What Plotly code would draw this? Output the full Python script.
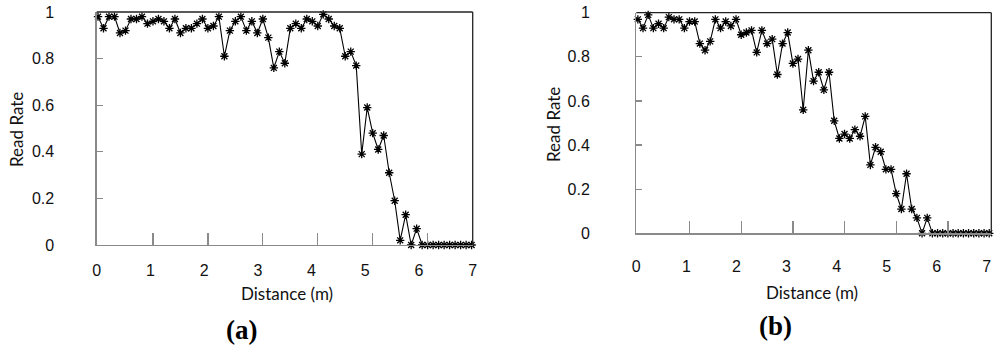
import plotly.graph_objects as go

# Distance (m): one sample every 0.1 m
distance = [round(0.1 * i, 1) for i in range(69)]

read_rate_a = [0.98, 0.93, 0.98, 0.98, 0.91, 0.92, 0.97, 0.97, 0.98, 0.95,
               0.96, 0.97, 0.96, 0.93, 0.97, 0.91, 0.93, 0.93, 0.95, 0.97,
               0.93, 0.94, 0.98, 0.81, 0.92, 0.96, 0.98, 0.92, 0.96, 0.91,
               0.97, 0.89, 0.76, 0.83, 0.78, 0.93, 0.95, 0.93, 0.97, 0.96,
               0.94, 0.99, 0.97, 0.94, 0.93, 0.81, 0.83, 0.77, 0.39, 0.59,
               0.48, 0.41, 0.47, 0.31, 0.19, 0.02, 0.13, 0.00, 0.07, 0.00,
               0, 0, 0, 0, 0, 0, 0, 0, 0]

read_rate_b = [0.97, 0.93, 0.99, 0.93, 0.95, 0.93, 0.98, 0.97, 0.97, 0.93,
               0.96, 0.96, 0.86, 0.83, 0.87, 0.97, 0.93, 0.96, 0.94, 0.97,
               0.90, 0.91, 0.92, 0.82, 0.92, 0.86, 0.88, 0.72, 0.86, 0.91,
               0.77, 0.79, 0.56, 0.83, 0.69, 0.73, 0.65, 0.73, 0.51, 0.43,
               0.45, 0.43, 0.47, 0.44, 0.53, 0.31, 0.39, 0.37, 0.29, 0.29,
               0.18, 0.11, 0.27, 0.11, 0.07, 0.00, 0.07, 0.00, 0, 0,
               0, 0, 0, 0, 0, 0, 0, 0, 0]

x_tick_labels = [0, 1, 2, 3, 4, 5, 6, 7]
y_tick_vals = [0, 0.2, 0.4, 0.6, 0.8, 1.0]
y_tick_text = ["0", "0.2", "0.4", "0.6", "0.8", "1"]
panel_labels = ["(a)", "(b)"]
x_title = "Distance (m)"
y_title = "Read Rate"

GREY = "#8a8a8a"
NUM_FONT = dict(family="Liberation Sans, Arial, sans-serif", size=16, color="#111")
TITLE_FONT = dict(family="Lato, Carlito, sans-serif", size=17, color="#111")

fig = go.Figure()

marker = dict(symbol="asterisk-open", size=7, color="black",
              line=dict(color="black", width=1.3))

fig.add_trace(go.Scatter(x=distance, y=read_rate_a, mode="lines+markers",
                         line=dict(color="black", width=1.1), marker=marker,
                         xaxis="x", yaxis="y", cliponaxis=False, showlegend=False))
fig.add_trace(go.Scatter(x=distance, y=read_rate_b, mode="lines+markers",
                         line=dict(color="black", width=1.1), marker=marker,
                         xaxis="x2", yaxis="y2", cliponaxis=False, showlegend=False))
# empty traces so the label-only overlay axes exist
fig.add_trace(go.Scatter(x=[], y=[], xaxis="x3", yaxis="y", showlegend=False))
fig.add_trace(go.Scatter(x=[], y=[], xaxis="x4", yaxis="y2", showlegend=False))

dom_a = [0.0967, 0.4727]
dom_b = [0.6363, 0.9913]

def main_x(domain, rng, anchor):
    return dict(domain=domain, range=rng, anchor=anchor, tickvals=[1, 2, 3, 4, 5, 6],
                ticks="inside", ticklen=12, tickcolor=GREY, tickwidth=1.3,
                showticklabels=False, showline=True, linecolor=GREY, linewidth=1.3,
                showgrid=False, zeroline=False, automargin=False)

def label_x(domain, rng, overlay, anchor, standoff):
    return dict(domain=domain, range=rng, overlaying=overlay, anchor=anchor, side="bottom",
                tickvals=x_tick_labels, ticktext=[str(v) for v in x_tick_labels],
                ticks="", showline=False, showgrid=False, zeroline=False,
                tickfont=NUM_FONT, ticklabelstandoff=standoff, automargin=False,
                ticklabeloverflow="allow")

def main_y(domain, anchor, standoff):
    return dict(domain=domain, range=[0, 1], anchor=anchor, tickvals=y_tick_vals,
                ticktext=y_tick_text, ticks="inside", ticklen=6, tickcolor=GREY,
                tickwidth=1.3, showline=True, linecolor=GREY, linewidth=1.3,
                showgrid=False, zeroline=False, tickfont=NUM_FONT,
                ticklabelstandoff=standoff, automargin=False,
                ticklabeloverflow="allow")

fig.update_layout(
    width=1000, height=351,
    margin=dict(l=0, r=0, t=0, b=0, autoexpand=False),
    paper_bgcolor="white", plot_bgcolor="white",
    hovermode=False,
    xaxis=main_x(dom_a, [-0.024, 6.82], "y"),
    xaxis2=main_x(dom_b, [-0.03, 6.84], "y2"),
    xaxis3=label_x(dom_a, [0, 7], "x", "y", 14),
    xaxis4=label_x(dom_b, [0, 7.09], "x2", "y2", 22),
    yaxis=main_y([0.302, 0.9658], "x", 38),
    yaxis2=main_y([0.3353, 0.9638], "x2", 42),
)

# dark frame on top and right of each plot area
for xr, yr in (("x", "y"), ("x2", "y2")):
    fig.add_shape(type="line", xref=f"{xr} domain", yref=f"{yr} domain",
                  x0=0, x1=1, y0=1, y1=1, line=dict(color="#222", width=1.3))
    fig.add_shape(type="line", xref=f"{xr} domain", yref=f"{yr} domain",
                  x0=1, x1=1, y0=0, y1=1, line=dict(color="#222", width=1.3))

# axis titles
for xc, yc in ((0.2867, 0.1624), (0.812, 0.168)):
    fig.add_annotation(text=x_title, xref="paper", yref="paper", x=xc, y=yc,
                       showarrow=False, xanchor="center", yanchor="middle", font=TITLE_FONT)
for xc, yc in ((0.016, 0.6296), (0.554, 0.6439)):
    fig.add_annotation(text=y_title, xref="paper", yref="paper", x=xc, y=yc, textangle=-90,
                       showarrow=False, xanchor="center", yanchor="middle", font=TITLE_FONT)

for txt, xc, yc in ((panel_labels[0], 0.2417, 0.0598), (panel_labels[1], 0.775, 0.0712)):
    fig.add_annotation(text=f"<b>{txt}</b>", xref="paper", yref="paper", x=xc, y=yc,
                       showarrow=False, xanchor="center", yanchor="middle",
                       font=dict(family="Liberation Serif, Times New Roman, serif",
                                 size=27, color="black"))

fig.write_html("out.html", config={"displayModeBar": False, "staticPlot": True},
               post_script="document.body.style.margin='0';document.body.style.overflow='hidden';")
